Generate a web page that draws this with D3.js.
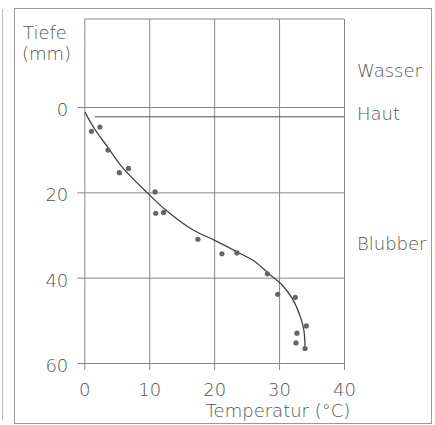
<!DOCTYPE html>
<html>
<head>
<meta charset="utf-8">
<script src="https://cdn.jsdelivr.net/npm/d3@7"></script>
<style>
  body { margin: 0; background: #fff; }
  text { font-family: "DejaVu Sans", sans-serif; font-weight: 200; fill: #555; }
</style>
</head>
<body>
<div id="chart"></div>
<script>
// measured points: temperature (°C) vs depth (mm)
const pointTemp  = [1.1, 2.4, 3.65, 5.4, 6.8, 10.9, 11.0, 12.2, 17.5, 21.2, 23.5, 28.2, 29.8, 32.5, 34.2, 32.75, 32.6, 34.0];
const pointDepth = [5.7, 4.7, 10.1, 15.4, 14.4, 19.9, 24.9, 24.7, 31.0, 34.4, 34.2, 39.1, 43.9, 44.6, 51.3, 53.0, 55.3, 56.6];

// fitted curve
const curveTemp  = [0.1, 1.4, 3.65, 5.9, 9.5, 12.5, 16.5, 20, 23.6, 26.25, 28.6, 30.4, 32.0, 33.2, 33.8, 34.0];
const curveDepth = [1.2, 4.7, 9.5, 14.2, 19.8, 24.1, 28.6, 31.2, 34.0, 36.2, 39.3, 41.6, 44.8, 48.8, 52.1, 56.1];

const xTicks = [0, 10, 20, 30, 40];
const yTicks = [0, 20, 40, 60];
const hautDepth = 2.3;

const layers = [
  { label: "Wasser", depth: -7.0 },
  { label: "Haut", depth: 3.1 },
  { label: "Blubber", depth: 33.5 }
];

const width = 435, height = 425;
const plotLeft = 84.3, plotRight = 344, plotTop = 19, plotBottom = 363, tick = 7;
const fs = "18px";

const svg = d3.select("#chart").append("svg")
  .attr("width", width)
  .attr("height", height);

// outer frame
svg.append("rect")
  .attr("x", 14.5).attr("y", 8.5)
  .attr("width", 417).attr("height", 415)
  .attr("fill", "none")
  .attr("stroke", "#999")
  .attr("stroke-width", 1);
svg.append("line")
  .attr("x1", 2.5).attr("x2", 2.5)
  .attr("y1", 9).attr("y2", 420)
  .attr("stroke", "#bbb");

let x = d3.scaleLinear().domain([0, 40]).range([plotLeft, plotRight]);
let y = d3.scaleLinear().domain([0, 60]).range([107, plotBottom]);

// grid + ticks via axes
let gy = svg.append("g")
  .attr("transform", "translate(" + (plotLeft - tick) + ",0)")
  .call(d3.axisLeft(y).tickValues(yTicks).tickSize(-(plotRight - plotLeft + tick)).tickPadding(9));
gy.select(".domain").remove();
gy.selectAll("line").attr("stroke", "#888");
gy.selectAll("text")
  .attr("dy", "0.48em")
  .style("font-size", fs)
  .style("font-family", "'DejaVu Sans', sans-serif")
  .attr("fill", "#555");

let gx = svg.append("g")
  .attr("transform", "translate(0," + (plotBottom + tick) + ")")
  .call(d3.axisBottom(x).tickValues(xTicks).tickSize(-(plotBottom + tick - plotTop)).tickPadding(13));
gx.select(".domain").remove();
gx.selectAll("line").attr("stroke", "#888");
gx.selectAll("text")
  .style("font-size", fs)
  .style("font-family", "'DejaVu Sans', sans-serif")
  .attr("fill", "#555");

// top border
svg.append("line")
  .attr("x1", plotLeft).attr("x2", plotRight)
  .attr("y1", plotTop).attr("y2", plotTop)
  .attr("stroke", "#888");

// skin line
svg.append("line")
  .attr("x1", x(1.6)).attr("x2", plotRight)
  .attr("y1", y(hautDepth)).attr("y2", y(hautDepth))
  .attr("stroke", "#555");

// curve
let line = d3.line()
  .x((d, i) => x(curveTemp[i]))
  .y((d, i) => y(curveDepth[i]))
  .curve(d3.curveCatmullRom);
svg.append("path")
  .attr("d", line(curveTemp))
  .attr("fill", "none")
  .attr("stroke", "#444")
  .attr("stroke-width", 1.3);

// points
svg.selectAll(".pt")
  .data(pointTemp)
  .enter()
  .append("circle")
  .attr("class", "pt")
  .attr("cx", (d) => x(d))
  .attr("cy", (d, i) => y(pointDepth[i]))
  .attr("r", 2.6)
  .attr("fill", "#666");

// layer labels
svg.selectAll(".layer")
  .data(layers)
  .enter()
  .append("text")
  .attr("class", "layer")
  .attr("x", 357)
  .attr("y", (d) => y(d.depth))
  .style("font-size", fs)
  .text((d) => d.label);

// axis titles
svg.append("text")
  .attr("x", 23).attr("y", 38.5)
  .style("font-size", fs)
  .text("Tiefe");
svg.append("text")
  .attr("x", 22).attr("y", 59.5)
  .style("font-size", fs)
  .text("(mm)");

svg.append("text")
  .attr("x", 278).attr("y", 417)
  .attr("text-anchor", "middle")
  .style("font-size", fs)
  .text("Temperatur (°C)");
</script>
</body>
</html>
